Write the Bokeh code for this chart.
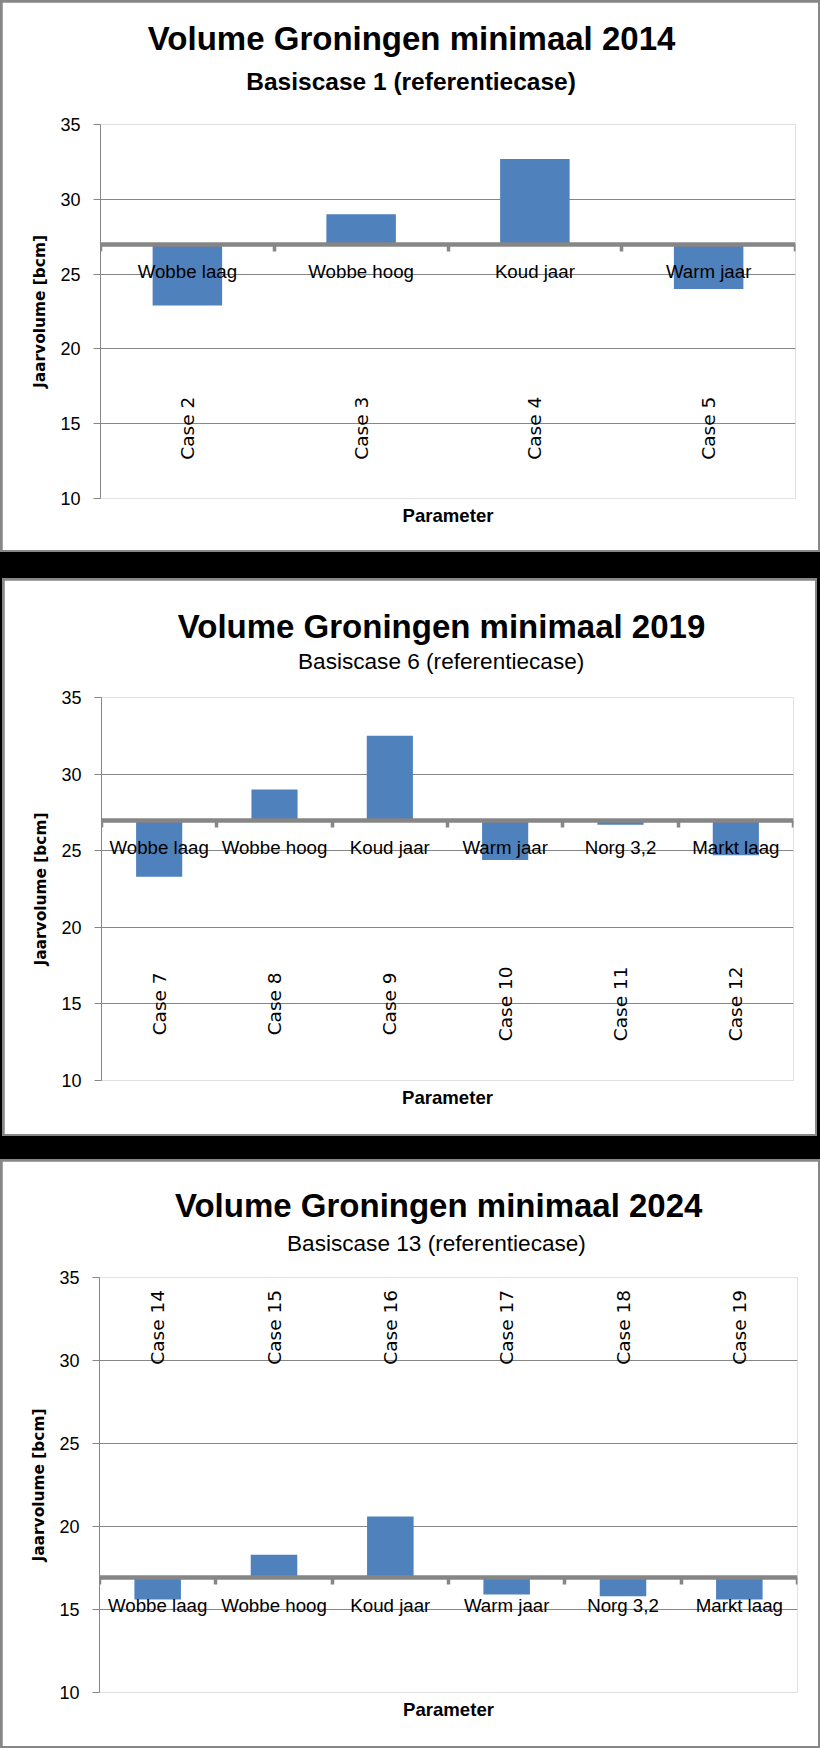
import numpy as np
from bokeh.plotting import figure
from bokeh.models import Range1d, LinearAxis, FixedTicker, Title
from bokeh.layouts import column
from bokeh.core.properties import value
from bokeh.embed import file_html
from bokeh.resources import INLINE

# ---------------- data ----------------
titles = ["Volume Groningen minimaal 2014",
          "Volume Groningen minimaal 2019",
          "Volume Groningen minimaal 2024"]
subtitles = ["Basiscase 1 (referentiecase)",
             "Basiscase 6 (referentiecase)",
             "Basiscase 13 (referentiecase)"]

params_2014 = ["Wobbe laag", "Wobbe hoog", "Koud jaar", "Warm jaar"]
cases_2014 = ["Case 2", "Case 3", "Case 4", "Case 5"]
volumes_2014 = [22.9, 29.0, 32.7, 24.0]
base_2014 = 27.0

params_2019 = ["Wobbe laag", "Wobbe hoog", "Koud jaar", "Warm jaar", "Norg 3,2", "Markt laag"]
cases_2019 = ["Case 7", "Case 8", "Case 9", "Case 10", "Case 11", "Case 12"]
volumes_2019 = [23.3, 29.0, 32.5, 24.4, 26.7, 24.7]
base_2019 = 27.0

params_2024 = ["Wobbe laag", "Wobbe hoog", "Koud jaar", "Warm jaar", "Norg 3,2", "Markt laag"]
cases_2024 = ["Case 14", "Case 15", "Case 16", "Case 17", "Case 18", "Case 19"]
volumes_2024 = [15.6, 18.3, 20.6, 15.9, 15.8, 15.6]
base_2024 = 16.9

y_ticks = [10, 15, 20, 25, 30, 35]
y_label = "Jaarvolume [bcm]"
x_label = "Parameter"

# ---------------- style ----------------
BAR = "#4F81BD"
GRID = "#868686"
BORDER = "#878787"
SANS = "Liberation Sans"


def make_panel(title, subtitle, sub_bold, params, cases, volumes, base, case_y,
               width, height, borders, title_pos, sub_pos, outer_margin):
    left, right, top, bottom = borders
    n = len(params)
    slots = np.arange(n) + 0.5          # category centres on the x scale
    p = figure(x_range=Range1d(0, n), y_range=Range1d(y_ticks[0], y_ticks[-1]),
               width=width - 4, height=height - 4,
               output_backend="svg", toolbar_location=None,
               min_border_left=left - 2, min_border_right=right - 2,
               min_border_top=top - 2, min_border_bottom=bottom - 2)
    p.margin = (2, 2, 2, 2)
    p.outline_line_color = None
    p.border_fill_color = "white"
    p.background_fill_color = "white"

    # y axis + grid
    yax = p.yaxis[0]
    yax.ticker = FixedTicker(ticks=y_ticks)
    yax.axis_line_color = GRID
    yax.major_tick_line_color = GRID
    yax.major_tick_in = 0
    yax.major_tick_out = 7
    yax.minor_tick_line_color = None
    yax.major_label_text_font = SANS
    yax.major_label_text_font_size = "18px"
    yax.major_label_text_color = "black"
    yax.major_label_standoff = 13
    yax.axis_label = y_label
    yax.axis_label_text_font = "DejaVu Sans"
    yax.axis_label_text_font_style = "bold"
    yax.axis_label_text_font_size = "15.4px"
    yax.axis_label_text_color = "black"
    yax.axis_label_standoff = 8
    p.ygrid.ticker = yax.ticker
    p.ygrid.grid_line_color = GRID
    p.ygrid.grid_line_width = 1
    p.xgrid.visible = False

    # bottom axis only carries the axis title
    xax = p.xaxis[0]
    xax.ticker = FixedTicker(ticks=[])
    xax.axis_line_color = None
    xax.major_tick_line_color = None
    xax.major_tick_in = 0
    xax.major_tick_out = 0
    xax.minor_tick_line_color = None
    xax.major_label_standoff = 0
    xax.axis_label = x_label
    xax.axis_label_text_font = SANS
    xax.axis_label_text_font_style = "bold"
    xax.axis_label_text_font_size = "18.6px"
    xax.axis_label_text_color = "black"
    xax.axis_label_standoff = 6

    # bars from the base case value
    p.vbar(x=slots, bottom=base, top=volumes, width=0.4,
           fill_color=BAR, line_color=None)

    # rotated case labels
    p.text(x=slots, y=case_y, text=cases, angle=np.pi / 2,
           text_align="center", text_baseline="middle",
           text_font=value("DejaVu Sans"), text_font_size="18.5px", text_color="black")

    # category axis crossing at the base case value
    cat_axis = LinearAxis(fixed_location=base, axis_line_color=GRID, axis_line_width=4.5,
                          ticker=FixedTicker(ticks=list(slots)),
                          major_label_overrides={float(s): c for s, c in zip(slots, params)},
                          major_tick_line_color=None, major_tick_in=0, major_tick_out=0,
                          minor_tick_line_color=None,
                          major_label_text_font=SANS, major_label_text_font_size="18.7px",
                          major_label_text_color="black", major_label_standoff=17)
    p.add_layout(cat_axis, "below")

    # tick marks between the categories
    tick_axis = LinearAxis(fixed_location=base,
                           ticker=FixedTicker(ticks=list(range(n + 1))),
                           axis_line_color=None, major_tick_line_color=GRID,
                           major_tick_line_width=3.5, major_tick_in=0, major_tick_out=7,
                           minor_tick_line_color=None, major_label_text_color=None)
    p.add_layout(tick_axis, "below")

    # titles (first added sits closest to the plot)
    p.add_layout(Title(text=subtitle, align="left", offset=sub_pos[0],
                       standoff=sub_pos[1], text_font=SANS,
                       text_font_style="bold" if sub_bold else "normal",
                       text_font_size="24.5px" if sub_bold else "22.6px",
                       text_color="black"), "above")
    p.add_layout(Title(text=title, align="left", offset=title_pos[0],
                       standoff=title_pos[1], text_font=SANS, text_font_style="bold",
                       text_font_size="33px", text_color="black"), "above")

    # grey panel frame around the chart
    return column(p, width=width, height=height, margin=outer_margin,
                  styles={"background-color": BORDER})


p1 = make_panel(titles[0], subtitles[0], True, params_2014, cases_2014, volumes_2014,
                base_2014, 14.7, 820, 552, (100, 25, 124, 54),
                (47.3, -41), (145.8, 58.6), (0, 0, 26, 0))
p2 = make_panel(titles[1], subtitles[1], False, params_2019, cases_2019, volumes_2019,
                base_2019, 15.0, 815, 558, (99, 24, 119, 56),
                (76.2, -43), (196.5, 46.6), (0, 3, 23, 2))
p3 = make_panel(titles[2], subtitles[2], False, params_2024, cases_2024, volumes_2024,
                base_2024, 32.0, 820, 589, (99, 23, 118, 56),
                (75.4, -34.4), (187.5, 44), (0, 0, 0, 0))

layout = column(p1, p2, p3, spacing=0, width=820, height=1748,
                styles={"background-color": "black"})

open("out.html", "w").write(file_html(layout, INLINE))
